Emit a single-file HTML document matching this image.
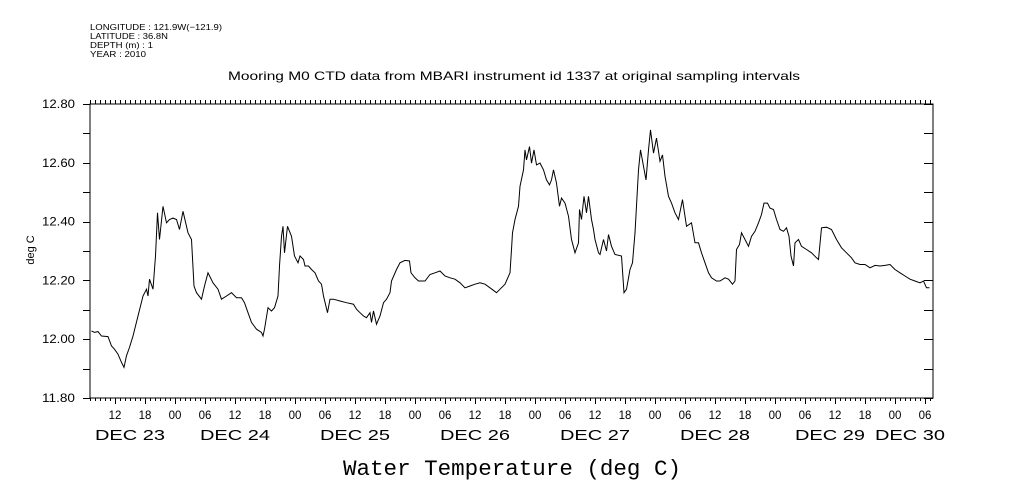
<!DOCTYPE html>
<html><head><meta charset="utf-8"><style>
body{margin:0;background:#fff;width:1009px;height:504px;overflow:hidden}
svg{display:block;font-family:"Liberation Sans",sans-serif}
</style></head><body>
<svg id="chart" width="1009" height="504" viewBox="0 0 1009 504">
<g font-size="8.5" fill="#000">
<text x="90" y="30" textLength="132" lengthAdjust="spacingAndGlyphs">LONGITUDE : 121.9W(−121.9)</text>
<text x="90" y="39" textLength="78" lengthAdjust="spacingAndGlyphs">LATITUDE : 36.8N</text>
<text x="90" y="48" textLength="63" lengthAdjust="spacingAndGlyphs">DEPTH (m) : 1</text>
<text x="90" y="57" textLength="56" lengthAdjust="spacingAndGlyphs">YEAR : 2010</text>
</g>
<text x="228" y="80" font-size="12" textLength="572" lengthAdjust="spacingAndGlyphs">Mooring M0 CTD data from MBARI instrument id 1337 at original sampling intervals</text>
<text x="0" y="0" font-size="11" text-anchor="middle" transform="translate(34,250) rotate(-90)">deg C</text>
<text x="343" y="475" font-size="22.5" textLength="338" lengthAdjust="spacingAndGlyphs" font-family="Liberation Mono, monospace">Water Temperature (deg C)</text>
<g id="axes"></g>
<path id="line" fill="none" stroke="#000" stroke-width="1"/>
</svg>
<script>
const hours=[7.3,7.9,8.6,9.3,10.6,11.3,11.9,12.6,13.3,13.8,14.3,14.9,15.6,16.6,17.6,18.3,18.6,18.9,19.6,20.1,20.5,20.9,21.6,22.3,22.9,23.6,24.3,24.9,25.6,26.6,27.3,27.8,28.3,29.3,29.9,30.6,31.6,32.6,33.3,34.3,35.3,36.3,37.3,37.9,38.6,39.3,40.3,41.3,41.6,41.9,42.6,43.3,43.9,44.6,44.9,45.3,45.6,45.9,46.5,47.3,47.9,48.6,
49,49.7,50,50.7,51.3,52,52.7,53.3,53.7,54.5,55,55.7,57,58.3,59.7,60.3,61,61.7,62.3,63,63.3,63.7,64.3,65,65.7,66.3,67,67.3,68.3,69,70,70.9,71.2,72,72.7,74,75,76,77,78,79,80,81,82,83,84,85,86,87,88.3,89,90,91,91.3,
91.5,92,92.7,93,93.7,94,94.3,94.9,95.3,95.8,96.3,97,97.7,98.3,98.9,99.3,99.7,100.3,100.9,101.3,102,102.7,103.3,104,104.7,104.9,105.3,105.8,106.3,106.7,107.3,107.7,108,108.7,109,109.7,110.3,110.7,111.3,112,113.3,113.8,114.3,115,115.5,116,116.7,117.1,117.7,118.2,118.7,119.1,119.7,120.3,121,121.5,122,122.7,123.3,124,124.7,125.1,125.5,126.3,127.3,128,128.7,129.3,130,130.7,131.3,132.3,
133,134,134.7,135.5,136,136.3,136.9,137.3,138,138.7,139.3,140,140.7,141.3,141.8,142.5,143,143.7,144.3,145,145.7,146.3,146.8,147.2,147.7,148,148.7,149.3,150.3,151.3,152.3,152.7,153.3,154.3,155.3,156.3,157.3,158.3,159.3,160,161,162,163,164,165,166,167,168,169,170,171,172,173,173.7,174.3,174.9];
const temps=[12.028,12.023,12.026,12.011,12.009,11.977,11.966,11.949,11.921,11.904,11.944,11.972,12.011,12.079,12.147,12.17,12.147,12.204,12.17,12.283,12.43,12.339,12.452,12.396,12.407,12.412,12.407,12.373,12.435,12.362,12.339,12.181,12.158,12.136,12.181,12.226,12.192,12.17,12.136,12.147,12.158,12.141,12.141,12.124,12.09,12.057,12.034,12.023,12.011,12.034,12.107,12.096,12.107,12.147,12.249,12.35,12.384,12.294,12.384,12.35,12.283,12.26,
12.283,12.271,12.249,12.249,12.237,12.226,12.198,12.187,12.147,12.09,12.136,12.136,12.13,12.124,12.119,12.102,12.09,12.079,12.073,12.09,12.057,12.096,12.051,12.079,12.124,12.136,12.158,12.198,12.237,12.26,12.268,12.266,12.226,12.209,12.198,12.198,12.22,12.226,12.232,12.215,12.209,12.204,12.192,12.175,12.181,12.187,12.192,12.187,12.175,12.158,12.17,12.187,12.226,12.305,
12.362,12.407,12.452,12.52,12.576,12.644,12.61,12.655,12.599,12.644,12.593,12.599,12.576,12.542,12.525,12.542,12.576,12.531,12.452,12.48,12.463,12.418,12.339,12.294,12.328,12.441,12.407,12.486,12.43,12.486,12.407,12.373,12.339,12.294,12.288,12.339,12.3,12.356,12.316,12.288,12.283,12.158,12.17,12.237,12.26,12.362,12.576,12.644,12.588,12.542,12.644,12.712,12.633,12.684,12.605,12.627,12.554,12.486,12.463,12.43,12.407,12.441,12.475,12.384,12.396,12.328,12.328,12.294,12.26,12.226,12.209,12.198,
12.198,12.209,12.204,12.187,12.198,12.305,12.322,12.362,12.339,12.316,12.35,12.367,12.396,12.424,12.463,12.463,12.446,12.441,12.407,12.373,12.367,12.379,12.35,12.283,12.249,12.328,12.339,12.316,12.305,12.294,12.277,12.271,12.379,12.381,12.373,12.339,12.311,12.294,12.277,12.26,12.254,12.254,12.243,12.251,12.249,12.251,12.254,12.237,12.226,12.215,12.204,12.198,12.192,12.198,12.175,12.175];
const yTicks=["11.80","12.00","12.20","12.40","12.60","12.80"];
const hourLabels=["12","18","00","06"];
const dayLabels=["DEC 23","DEC 24","DEC 25","DEC 26","DEC 27","DEC 28","DEC 29","DEC 30"];
const dayLabelHours=[15,36,60,84,108,132,155,171];

const L=90,R=933,T=104,B=398,H0=7,H1=175.6,Y0=11.8,Y1=12.8;
const xs=h=>L+(h-H0)/(H1-H0)*(R-L);
const ys=v=>B-(v-Y0)/(Y1-Y0)*(B-T);
const NS="http://www.w3.org/2000/svg";
const ax=document.getElementById('axes');
function mk(tag,attrs,txt){const e=document.createElementNS(NS,tag);for(const k in attrs)e.setAttribute(k,attrs[k]);if(txt!=null)e.textContent=txt;ax.appendChild(e);return e;}
const fr=mk('rect',{x:L,y:T,width:R-L,height:B-T,fill:'none',stroke:'#000','stroke-width':1});


let d='';
for(let h=Math.ceil(H0);h<=H1;h++){
  const x=Math.round(xs(h))+0.5;const major=h%6===0;
  d+=`M${x},${T}v-4M${x},${B}v${major?6:3}`;
}
for(let i=0;i<=10;i++){const y=Math.round(ys(Y0+i*0.1))+0.5;d+=`M${L},${y}h-7M${R},${y}h-9`;}
const tk=mk('path',{d:d,stroke:'#000','stroke-width':1,fill:'none'});


yTicks.forEach(t=>{const e=mk('text',{x:42,y:ys(+t)+4,'font-size':11.5,textLength:33,lengthAdjust:'spacingAndGlyphs'},t);

});
for(let h=12;h<=H1;h+=6){const lab=hourLabels[(h/6-2)%4];
const e=mk('text',{x:xs(h),y:419,'font-size':11.5,'text-anchor':'middle'},lab);

}
dayLabels.forEach((t,i)=>{const e=mk('text',{x:xs(dayLabelHours[i])-35,y:440,'font-size':15,textLength:70,lengthAdjust:'spacingAndGlyphs'},t);

});
document.getElementById('line').setAttribute('d',hours.map((h,i)=>(i?'L':'M')+xs(h).toFixed(1)+','+ys(temps[i]).toFixed(1)).join(''));
</script>
</body></html>
